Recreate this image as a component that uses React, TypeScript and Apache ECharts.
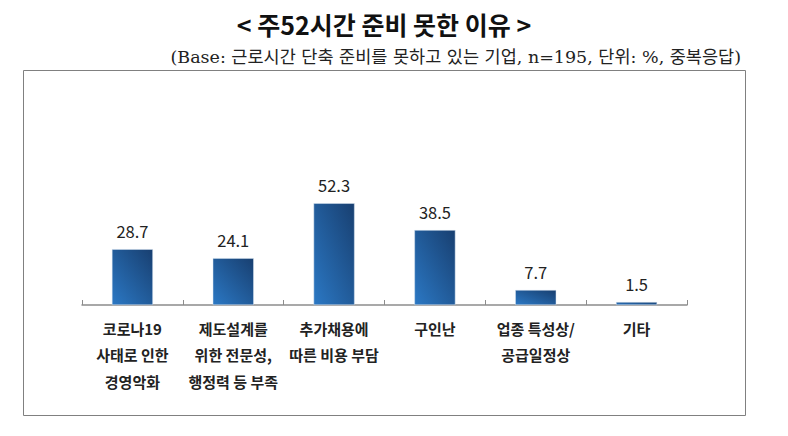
import React, { useEffect, useRef } from "react";
import * as echarts from "echarts";

const categories = [
  "코로나19\n사태로 인한\n경영악화",
  "제도설계를\n위한 전문성,\n행정력 등 부족",
  "추가채용에\n따른 비용 부담",
  "구인난",
  "업종 특성상/\n공급일정상",
  "기타",
];
const values = [28.7, 24.1, 52.3, 38.5, 7.7, 1.5];
const titleText = "< 주52시간 준비 못한 이유 >";
const subtitleText = "(Base: 근로시간 단축 준비를 못하고 있는 기업, n=195, 단위: %, 중복응답)";

export default function App() {
  const ref = useRef<HTMLDivElement>(null);
  useEffect(() => {
    if (!ref.current) return;
    const chart = echarts.init(ref.current, undefined, { renderer: "svg" });
    const kr = "'Noto Sans CJK KR', 'Noto Sans', sans-serif";
    chart.setOption({
      animation: false,
      backgroundColor: "#ffffff",
      graphic: [
        {
          type: "rect",
          shape: { x: 23.5, y: 70.5, width: 722, height: 345 },
          style: { fill: "none", stroke: "#808080", lineWidth: 1 },
        },
        {
          type: "text",
          x: 384,
          y: 24,
          style: {
            text: titleText,
            fontSize: 25,
            fontWeight: "bold",
            fontFamily: kr,
            fill: "#111",
            textAlign: "center",
            textVerticalAlign: "middle",
          },
        },
        {
          type: "text",
          x: 741,
          y: 57,
          style: {
            text: subtitleText,
            fontSize: 17.5,
            fontFamily: "'DejaVu Serif', 'Noto Sans CJK KR', serif",
            fill: "#222",
            textAlign: "right",
            textVerticalAlign: "middle",
          },
        },
      ],
      grid: { left: 82, right: 101, top: 110.5, bottom: 131 },
      xAxis: {
        type: "category",
        data: categories,
        axisLine: { lineStyle: { color: "#8c8c8c", width: 1.5 } },
        axisTick: { show: true, inside: true, length: 5, lineStyle: { color: "#8c8c8c" } },
        axisLabel: {
          interval: 0,
          margin: 10,
          fontSize: 15,
          fontWeight: "bold",
          lineHeight: 26.5,
          color: "#222",
          fontFamily: kr,
        },
      },
      yAxis: {
        type: "value",
        min: 0,
        max: 100,
        show: false,
        splitLine: { show: false },
      },
      series: [
        {
          type: "bar",
          data: values,
          barWidth: 41,
          itemStyle: {
            color: new echarts.graphic.LinearGradient(0, 1, 1, 0, [
              { offset: 0, color: "#2b78c4" },
              { offset: 1, color: "#183f70" },
            ]),
            borderColor: "#d8e4f0",
            borderWidth: 0.5,
          },
          label: {
            show: true,
            position: "top",
            distance: 10,
            fontSize: 16.5,
            color: "#222",
            fontFamily: kr,
          },
        },
      ],
    });
    return () => chart.dispose();
  }, []);
  return (
    <div
      ref={ref}
      style={{ position: "fixed", left: 0, top: 0, width: 788, height: 436 }}
    />
  );
}
